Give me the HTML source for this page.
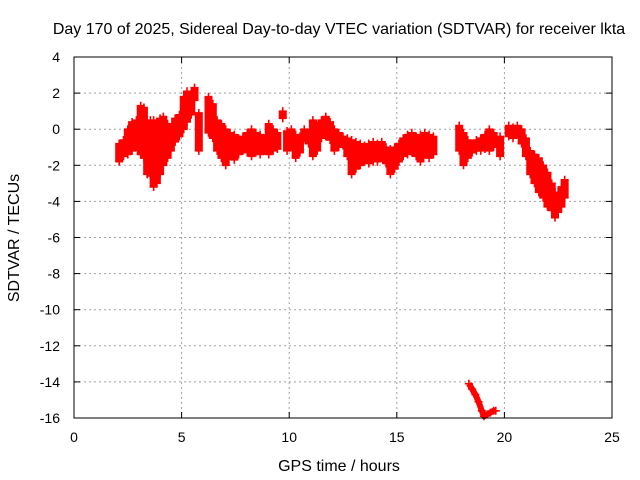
<!DOCTYPE html>
<html><head><meta charset="utf-8"><style>
body{margin:0;background:#fff}
svg{display:block;font-family:"Liberation Sans",sans-serif}
</style></head><body>
<svg id="chart" width="640" height="480" viewBox="0 0 640 480">
<text x="339" y="34" text-anchor="middle" font-size="16">Day 170 of 2025, Sidereal Day-to-day VTEC variation (SDTVAR) for receiver lkta</text>
<text x="339" y="471" text-anchor="middle" font-size="16">GPS time / hours</text>
<text transform="translate(19,238) rotate(-90)" text-anchor="middle" font-size="16">SDTVAR / TECUs</text>
<g id="grid"></g>
<g id="marks"></g>
<rect x="74" y="57" width="538" height="361" fill="none" stroke="#000" stroke-width="1"/>
<g id="ticks"></g>
</svg>
<script>
const xTicks=[0,5,10,15,20,25];
const yTicks=[4,2,0,-2,-4,-6,-8,-10,-12,-14,-16];
const times=[2.1,2.3,2.5,2.7,2.9,3.1,3.25,3.4,3.55,3.7,3.85,4.0,4.15,4.35,4.5,4.7,4.9,5.1,5.25,5.45,5.6,5.8,6.25,6.45,6.65,6.85,7.05,7.25,7.45,7.65,7.85,8.05,8.25,8.45,8.65,8.85,9.05,9.25,9.45,9.7,9.9,10.1,10.3,10.5,10.7,10.9,11.1,11.3,11.5,11.7,11.9,12.1,12.3,12.5,12.7,12.9,13.1,13.3,13.5,13.7,13.9,14.1,14.3,14.5,14.7,14.9,15.1,15.3,15.5,15.7,15.9,16.1,16.3,16.5,16.7,17.9,18.1,18.3,18.5,18.7,18.9,19.1,19.3,19.5,19.8,20.2,20.4,20.6,20.8,21.0,21.2,21.4,21.6,21.8,22.0,22.2,22.35,22.5,22.65,22.8];
const lowVals=[-1.8,-1.5,-1.4,-1.2,-1.0,-1.4,-1.6,-2.5,-2.6,-3.2,-3.0,-2.5,-2.0,-1.6,-1.2,-0.7,-0.4,0.0,0.4,0.8,1.6,-1.2,-0.2,-0.5,-1.2,-1.6,-2.0,-1.5,-1.7,-1.4,-1.2,-1.3,-1.5,-1.3,-1.4,-1.2,-1.4,-1.2,-1.1,0.6,-1.2,-1.0,-1.6,-1.3,-0.5,-0.8,-1.5,-1.2,-0.5,-0.4,-0.6,-1.2,-1.0,-0.9,-1.5,-2.5,-2.2,-2.0,-1.8,-1.9,-1.8,-1.8,-1.6,-1.9,-2.5,-2.2,-1.8,-1.5,-1.4,-1.3,-1.5,-1.8,-1.4,-1.6,-1.4,-1.2,-2.0,-1.6,-1.3,-1.2,-1.2,-1.1,-1.2,-1.0,-1.5,-0.4,-0.5,-0.3,-0.8,-1.5,-2.5,-3.0,-3.5,-3.8,-4.3,-4.5,-4.9,-4.6,-4.3,-3.8];
const highVals=[-0.8,-0.6,0.0,0.4,0.5,1.3,1.2,0.3,0.5,0.5,0.3,0.6,0.7,0.3,0.0,0.6,0.8,1.8,2.1,2.0,2.3,0.9,1.8,1.4,0.5,0.3,0.0,-0.2,-0.3,-0.5,-0.4,-0.2,0.0,-0.2,-0.3,-0.5,0.3,0.0,-0.2,1.0,-0.1,0.0,-0.3,-0.4,0.0,-0.2,0.5,0.2,0.5,0.7,0.4,0.0,-0.2,-0.4,-0.5,-0.6,-0.7,-0.8,-0.9,-0.8,-0.7,-0.8,-0.7,-1.0,-1.1,-1.0,-0.8,-0.5,-0.3,-0.2,-0.4,-0.3,-0.2,-0.3,-0.4,0.2,-0.2,-0.6,-0.8,-0.6,-0.5,-0.3,0.0,-0.2,-0.4,0.2,0.1,0.2,0.0,-0.5,-1.2,-1.4,-1.6,-2.0,-2.4,-3.0,-3.5,-3.5,-3.2,-2.8];
const outTimes=[18.35,18.5,18.65,18.8,18.95,19.05,19.2,19.35,19.5,19.6];
const outVals=[-14.1,-14.4,-14.7,-15.1,-15.6,-15.9,-15.8,-15.7,-15.6,-15.6];
const X0=74,X1=612,Y0=418,Y1=57;
const sx=v=>X0+(v-0)/25*(X1-X0);
const sy=v=>Y0-(v+16)/20*(Y0-Y1);
const NS='http://www.w3.org/2000/svg';
function mk(tag,attrs,parent){const e=document.createElementNS(NS,tag);for(const k in attrs)e.setAttribute(k,attrs[k]);parent.appendChild(e);return e;}
const grid=document.getElementById('grid'),ticks=document.getElementById('ticks'),marks=document.getElementById('marks');
xTicks.forEach(t=>{const x=sx(t);
 if(t>0&&t<25){const g=mk('line',{x1:x,x2:x,y1:Y1,y2:Y0,stroke:'#a0a0a0','stroke-dasharray':'2,3'},grid);}
 mk('line',{x1:x,x2:x,y1:Y0,y2:Y0-6,stroke:'#000'},ticks);mk('line',{x1:x,x2:x,y1:Y1,y2:Y1+6,stroke:'#000'},ticks);
 const l=mk('text',{x:x,y:442,'text-anchor':'middle','font-size':'14'},ticks);l.textContent=t;
 
 });
yTicks.forEach(t=>{const y=sy(t);
 if(t>-16&&t<4){const g=mk('line',{x1:X0,x2:X1,y1:y,y2:y,stroke:'#a0a0a0','stroke-dasharray':'2,3'},grid);}
 mk('line',{x1:X0,x2:X0+6,y1:y,y2:y,stroke:'#000'},ticks);mk('line',{x1:X1,x2:X1-6,y1:y,y2:y,stroke:'#000'},ticks);
 const l=mk('text',{x:60,y:y+5,'text-anchor':'end','font-size':'14'},ticks);l.textContent=t;
 
 });
function plus(x,y){const p=mk('path',{d:`M${x-4},${y}h8M${x},${y-4}v8`,stroke:'#f00','stroke-width':'1.6',fill:'none'},marks);
 
 }
times.forEach((t,i)=>{const x=sx(t),a=sy(lowVals[i]),b=sy(highVals[i]);
 const r=mk('rect',{x:x-4,y:Math.min(a,b),width:8,height:Math.abs(a-b),fill:'#f00'},marks);
 
 
 plus(x,a);plus(x,b);});
const outPts=outTimes.map((t,i)=>`${sx(t)},${sy(outVals[i])}`).join(' ');
const ol=mk('polyline',{points:outPts,fill:'none',stroke:'#f00','stroke-width':'6','stroke-linejoin':'round'},marks);


outTimes.forEach((t,i)=>{plus(sx(t),sy(outVals[i]));});
</script>
</body></html>
